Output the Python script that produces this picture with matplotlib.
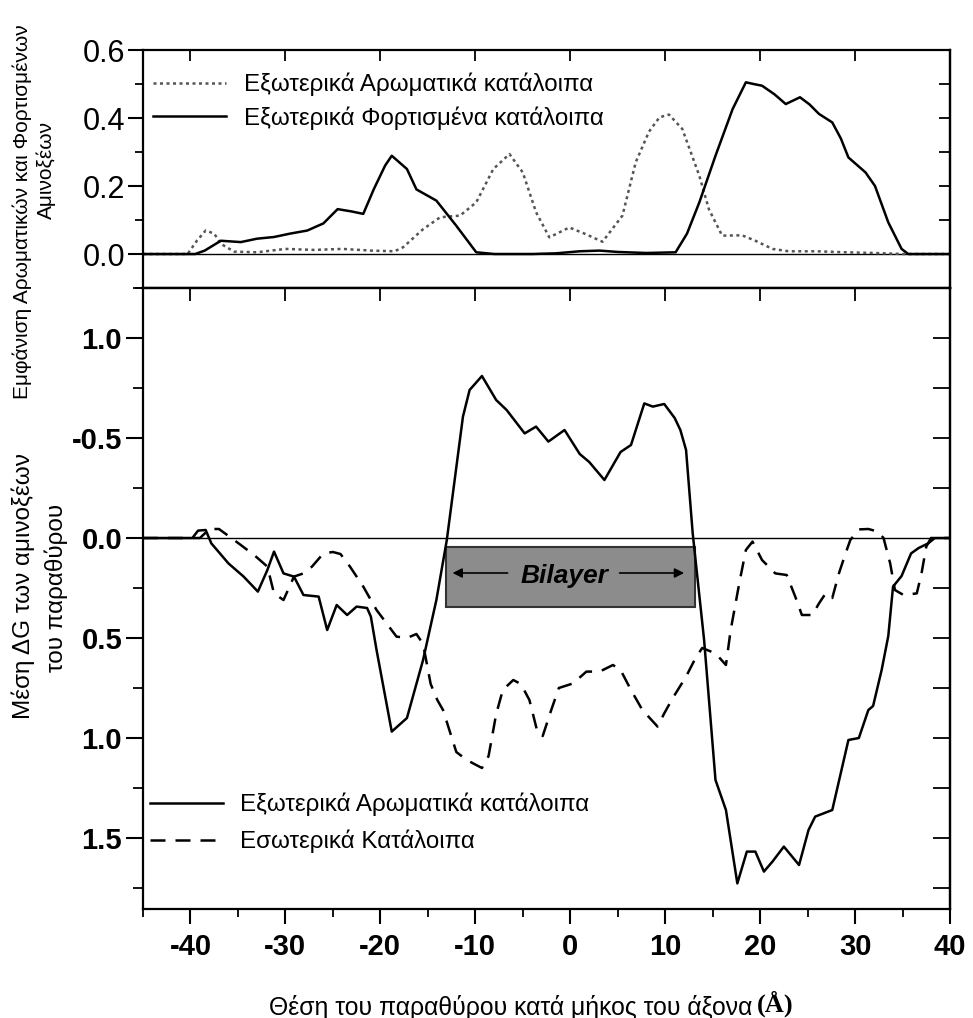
import matplotlib
matplotlib.use("Agg")
import matplotlib.pyplot as plt
from matplotlib.ticker import MultipleLocator, FixedLocator, FixedFormatter
from matplotlib.patches import Rectangle

# ---- data -------------------------------------------------------------
# upper panel: occurrence of exterior residues along the window axis
charged_x = [-45, -39.5, -38.5, -36.8, -34.7, -33, -31.2, -29.5, -27.7, -26, -24.5, -23,
             -21.8, -20.7, -19.5, -18.8, -17.2, -16.2, -14.1, -12.0, -9.9, -8, -4, -1.5,
             1, 3.1, 5, 8, 11.1, 12.3, 13.6, 15.3, 17.1, 18.5, 19.3, 20.2, 21.5, 22.7,
             24.2, 25.2, 26.2, 27.6, 28.5, 29.3, 31.1, 32.1, 33.5, 34.9, 35.6, 40]
charged_y = [0, 0, 0.01, 0.039, 0.035, 0.045, 0.05, 0.06, 0.069, 0.09, 0.132, 0.125,
             0.118, 0.19, 0.26, 0.289, 0.25, 0.19, 0.157, 0.083, 0.005, 0, 0, 0.002,
             0.008, 0.01, 0.006, 0.003, 0.005, 0.06, 0.152, 0.289, 0.426, 0.505, 0.5,
             0.495, 0.47, 0.441, 0.461, 0.44, 0.412, 0.387, 0.34, 0.284, 0.24, 0.2,
             0.093, 0.015, 0, 0]

aromatic_x = [-45, -40.3, -39.3, -38.4, -37.5, -36.8, -35.4, -33, -30, -27, -24, -21,
              -18.5, -17.6, -15.5, -13.7, -11.6, -9.9, -8.1, -6.4, -5.0, -3.6, -2.2,
              -0.1, 1.5, 3.4, 5.5, 6.9, 8.3, 9.4, 10.4, 11.8, 13.6, 14.6, 16.0, 18.1,
              19.5, 21.3, 23, 26, 29, 32, 35, 40]
aromatic_y = [0, 0, 0.04, 0.069, 0.06, 0.03, 0.007, 0.005, 0.015, 0.012, 0.015, 0.01,
              0.008, 0.02, 0.073, 0.108, 0.113, 0.152, 0.25, 0.294, 0.24, 0.123, 0.049,
              0.078, 0.06, 0.036, 0.113, 0.27, 0.36, 0.402, 0.41, 0.368, 0.23, 0.132,
              0.054, 0.055, 0.039, 0.015, 0.008, 0.008, 0.005, 0.003, 0, 0]

# lower panel: mean window ΔG
dg_arom_x = [-45, -39.8, -39.2, -38.4, -37.8, -36.0, -34.4, -32.9, -31.9, -31.2, -30.2,
             -29.1, -28.1, -26.5, -25.6, -24.6, -23.5, -22.5, -21.4, -21.0, -20.4, -18.8,
             -17.2, -15.5, -14.1, -13.0, -11.3, -10.6, -9.3, -7.8, -6.7, -4.8, -3.6,
             -2.3, -0.6, 1.0, 2.0, 3.6, 5.3, 6.4, 7.8, 8.7, 9.9, 11.0, 11.6, 12.2, 12.9,
             14.1, 15.3, 16.4, 17.6, 18.6, 19.5, 20.4, 21.3, 22.5, 24.1, 25.1, 25.8,
             27.6, 29.3, 30.4, 31.4, 31.9, 32.8, 33.5, 34.0, 34.9, 35.9, 36.7, 37.7,
             38.4, 40]
dg_arom_y = [0, 0, -0.037, -0.04, 0.027, 0.127, 0.193, 0.268, 0.16, 0.068, 0.177, 0.193,
             0.285, 0.293, 0.46, 0.335, 0.385, 0.343, 0.35, 0.393, 0.56, 0.968, 0.9,
             0.61, 0.31, 0.01, -0.607, -0.74, -0.81, -0.69, -0.64, -0.523, -0.557,
             -0.482, -0.54, -0.42, -0.38, -0.29, -0.43, -0.465, -0.673, -0.657, -0.67,
             -0.6, -0.54, -0.44, -0.023, 0.51, 1.21, 1.36, 1.727, 1.568, 1.568, 1.668,
             1.618, 1.543, 1.635, 1.46, 1.393, 1.36, 1.01, 1.0, 0.86, 0.84, 0.66, 0.49,
             0.243, 0.19, 0.077, 0.05, 0.027, 0, 0]

dg_inner_x = [-45, -39, -38, -37, -35.7, -34.7, -33.3, -31.9, -31.2, -30.2, -29.1, -28.1,
              -27.2, -26.0, -25, -24.2, -23.2, -21.8, -20.4, -18.3, -17.2, -16.2, -15.5,
              -14.7, -14.0, -13.4, -12.0, -10.9, -9.3, -8.6, -7.8, -7.1, -6.0, -5.2,
              -4.3, -3.4, -2.9, -2.0, -1.2, 0.3, 1.7, 3.1, 4.5, 5.3, 6.4, 7.6, 9.2, 9.9,
              10.8, 12.2, 13.2, 13.9, 15.3, 16.4, 16.9, 17.8, 18.5, 19.2, 20.2, 21.6,
              22.8, 23.7, 24.4, 25.5, 26.2, 26.9, 27.6, 28.3, 29.0, 29.5, 30.4, 31.4,
              32.4, 33.0, 33.7, 34.2, 35.1, 36.5, 37.0, 37.5, 38.0, 40]
dg_inner_y = [0, 0, -0.045, -0.045, 0, 0.035, 0.085, 0.143, 0.277, 0.31, 0.193, 0.177,
              0.143, 0.077, 0.07, 0.08, 0.143, 0.243, 0.36, 0.493, 0.5, 0.48, 0.53,
              0.73, 0.81, 0.86, 1.07, 1.11, 1.15, 1.09, 0.88, 0.76, 0.71, 0.73, 0.81,
              0.98, 0.99, 0.86, 0.75, 0.727, 0.668, 0.668, 0.635, 0.66, 0.76, 0.86,
              0.943, 0.877, 0.80, 0.693, 0.6, 0.55, 0.577, 0.635, 0.46, 0.227, 0.06,
              0.018, 0.11, 0.177, 0.185, 0.293, 0.385, 0.385, 0.327, 0.277, 0.3, 0.177,
              0.077, 0.01, -0.043, -0.045, -0.032, 0.0, 0.127, 0.26, 0.285, 0.277,
              0.177, 0.043, 0, 0]

top_ticks = [0.0, 0.2, 0.4, 0.6]
top_ticklabels = ["0.0", "0.2", "0.4", "0.6"]
dg_ticks = [-1.0, -0.5, 0.0, 0.5, 1.0, 1.5]
dg_ticklabels = ["1.0", "-0.5", "0.0", "0.5", "1.0", "1.5"]
x_ticks = [-40, -30, -20, -10, 0, 10, 20, 30, 40]

label_arom = "Εξωτερικά Αρωματικά κατάλοιπα"
label_charged = "Εξωτερικά Φορτισμένα κατάλοιπα"
label_inner = "Εσωτερικά Κατάλοιπα"

# ---- figure -----------------------------------------------------------
plt.rcParams['font.family'] = ['Liberation Sans', 'DejaVu Sans']
plt.rcParams['axes.unicode_minus'] = False
W, H = 973, 1018
fig = plt.figure(figsize=(W / 100, H / 100), dpi=100)

L, R = 143, 950
T1, B1, B2 = 50, 288, 909
ax1 = fig.add_axes([L / W, 1 - B1 / H, (R - L) / W, (B1 - T1) / H])
ax2 = fig.add_axes([L / W, 1 - B2 / H, (R - L) / W, (B2 - B1) / H])

for ax in (ax1, ax2):
    for s in ax.spines.values():
        s.set_linewidth(1.6)
    ax.set_xlim(-45, 40)
    ax.set_facecolor('white')

# upper panel
ax1.axhline(0, color='black', lw=1.0, zorder=1)
ax1.plot(aromatic_x, aromatic_y, color='#555555', lw=1.8, linestyle=(0, (1.2, 1.4)),
         label=label_arom)
ax1.plot(charged_x, charged_y, color='black', lw=1.8, label=label_charged)
ax1.set_ylim(-0.1, 0.6)
ax1.yaxis.set_major_locator(FixedLocator(top_ticks))
ax1.yaxis.set_major_formatter(FixedFormatter(top_ticklabels))
ax1.yaxis.set_minor_locator(MultipleLocator(0.1))
ax1.xaxis.set_major_locator(FixedLocator(x_ticks))
ax1.tick_params(axis='y', which='major', direction='out', length=11, width=1.5,
                labelsize=22, pad=2)
ax1.tick_params(axis='y', which='minor', direction='out', length=6, width=1.3)
ax1.tick_params(axis='x', which='both', top=True, bottom=False, direction='in',
                length=8, width=1.3, labelbottom=False)
ax1.legend(loc='upper left', bbox_to_anchor=(0.013, 0.905), frameon=False,
           fontsize=17.4, handlelength=3.0, handletextpad=0.75, labelspacing=0.41,
           borderpad=0, borderaxespad=0)

# lower panel
ax2.axhline(0, color='black', lw=1.0, zorder=1)
ax2.plot(dg_arom_x, dg_arom_y, color='black', lw=1.8, label=label_arom)
ax2.plot(dg_inner_x, dg_inner_y, color='black', lw=1.8, linestyle=(0, (6, 4)),
         label=label_inner)
ax2.set_ylim(1.855, -1.25)
ax2.yaxis.set_major_locator(FixedLocator(dg_ticks))
ax2.yaxis.set_major_formatter(FixedFormatter(dg_ticklabels))
ax2.yaxis.set_minor_locator(MultipleLocator(0.25))
ax2.xaxis.set_major_locator(FixedLocator(x_ticks))
ax2.xaxis.set_minor_locator(MultipleLocator(5))
ax2.tick_params(axis='y', which='major', direction='out', length=12, width=1.5,
                labelsize=21, pad=3)
ax2.tick_params(axis='y', which='minor', direction='out', length=7, width=1.3)
for lab in ax2.get_yticklabels():
    lab.set_fontweight('bold')
ax2.tick_params(axis='x', which='major', direction='out', length=11, width=1.5,
                labelsize=21, pad=6)
ax2.tick_params(axis='x', which='minor', direction='out', length=6, width=1.3)
for lab in ax2.get_xticklabels():
    lab.set_fontweight('bold')

# inward ticks on the right edges and on the top of the lower panel
ax1r = ax1.secondary_yaxis('right')
ax1r.yaxis.set_major_locator(MultipleLocator(0.1))
ax1r.tick_params(direction='in', length=8, width=1.3, labelright=False)
ax2r = ax2.secondary_yaxis('right')
ax2r.yaxis.set_major_locator(MultipleLocator(0.25))
ax2r.tick_params(direction='in', length=12, width=1.3, labelright=False)
ax2t = ax2.secondary_xaxis('top')
ax2t.xaxis.set_major_locator(FixedLocator(x_ticks))
ax2t.tick_params(direction='in', length=9, width=1.3, labeltop=False)
for sec in (ax1r, ax2r, ax2t):
    for s in sec.spines.values():
        s.set_linewidth(1.6)

ax2.legend(loc='upper left', bbox_to_anchor=(0.009, 0.187), frameon=False,
           fontsize=17.4, handlelength=3.0, handletextpad=0.7, labelspacing=0.56,
           borderpad=0, borderaxespad=0)

# bilayer band
ax2.add_patch(Rectangle((-13.1, 0.043), 26.25, 0.30, facecolor='#8c8c8c',
                        edgecolor='#333333', lw=1.5, zorder=1.5))
ax2.text(-0.6, 0.19, "Bilayer", ha='center', va='center', fontsize=19,
         fontweight='bold', fontstyle='italic', zorder=3)
arrow = dict(arrowstyle='-|>', color='black', lw=1.2, mutation_scale=14,
             shrinkA=0, shrinkB=0)
ax2.annotate('', xy=(-12.4, 0.175), xytext=(-6.6, 0.175), arrowprops=arrow, zorder=3)
ax2.annotate('', xy=(12.0, 0.175), xytext=(5.2, 0.175), arrowprops=arrow, zorder=3)

# axis titles
fig.text(22 / W, 1 - 212 / H, "Εμφάνιση Αρωματικών και Φορτισμένων", rotation=90,
         ha='center', va='center', fontsize=15)
fig.text(46 / W, 1 - 170 / H, "Αμινοξέων", rotation=90, ha='center', va='center',
         fontsize=15)
fig.text(23 / W, 1 - 586 / H, "Μέση ΔG των αμινοξέων", rotation=90,
         ha='center', va='center', fontsize=17.5)
fig.text(56 / W, 1 - 588 / H, "του παραθύρου", rotation=90, ha='center', va='center',
         fontsize=17.5)
fig.text(752 / W, 1 - 1007 / H, "Θέση του παραθύρου κατά μήκος του άξονα", ha='right',
         va='center', fontsize=17.8)
fig.text(757 / W, 1 - 1004 / H, "(Å)", ha='left', va='center', fontsize=19,
         fontweight='bold', family='Liberation Serif')

fig.savefig("out.png", dpi=100, facecolor='white')
